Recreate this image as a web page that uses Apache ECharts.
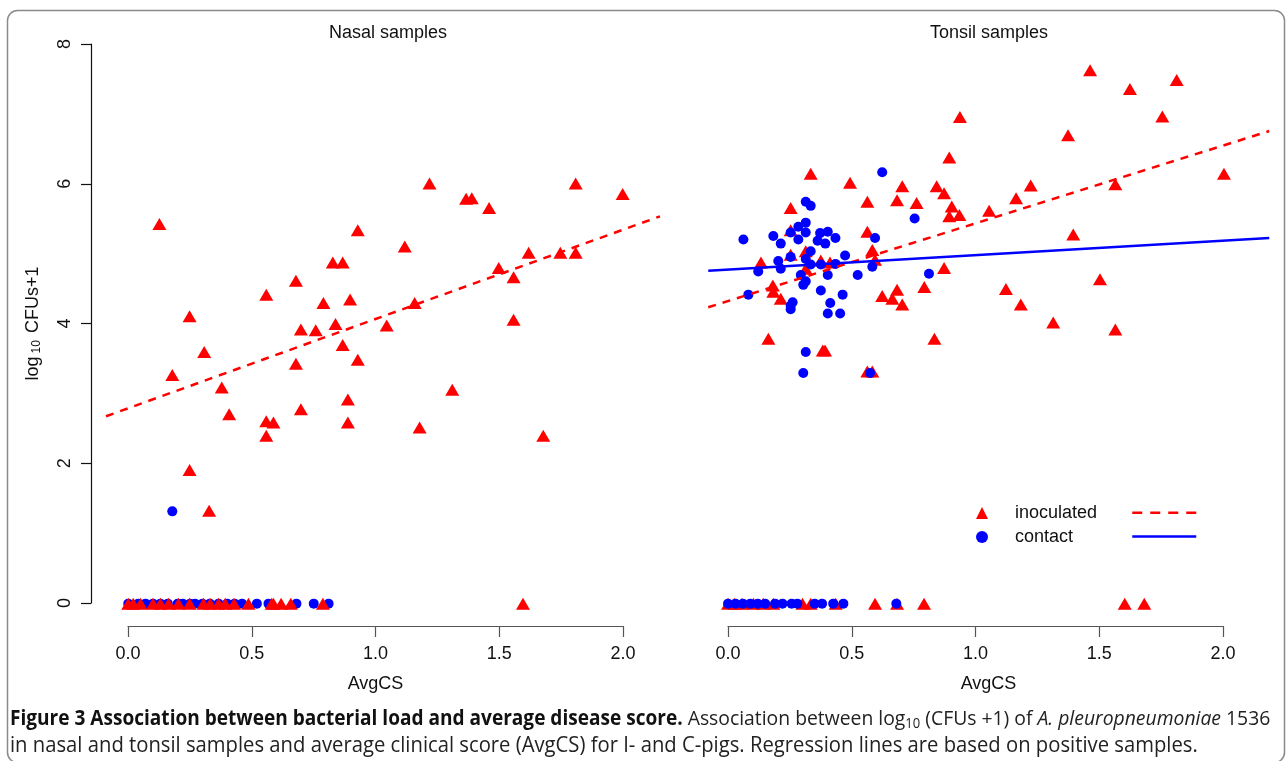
<!DOCTYPE html>
<html>
<head>
<meta charset="utf-8">
<script src="https://cdn.jsdelivr.net/npm/echarts@6/dist/echarts.min.js"></script>
<style>
  html, body { margin: 0; padding: 0; background: #fff; }
  #chart { width: 1288px; height: 761px; }
</style>
</head>
<body>
<div id="chart"></div>
<script>
// nasal samples, inoculated pigs (triangles)
var nasalInocX = [0.126, 0.928, 0.827, 0.867, 0.678, 0.558, 0.789, 0.897, 0.248, 0.698, 0.758, 0.838, 1.045, 0.867, 0.928,
  0.307, 0.678, 0.178, 0.378, 0.888, 0.698, 0.408, 0.558, 0.587, 0.888, 0.558, 1.218, 1.366, 1.389, 1.459, 1.809, 1.999,
  1.118, 1.158, 1.498, 1.619, 1.747, 1.809, 1.558, 1.558, 1.310, 1.178, 1.678, 0.248, 0.327,
  0.0, 0.02, 0.05, 0.10, 0.13, 0.163, 0.203, 0.248, 0.304, 0.331, 0.365, 0.392, 0.428, 0.486, 0.58, 0.587, 0.618, 0.657, 0.787, 1.596];
var nasalInocY = [5.43, 5.34, 4.88, 4.88, 4.62, 4.42, 4.30, 4.35, 4.11, 3.92, 3.91, 4.00, 3.98, 3.70, 3.49,
  3.60, 3.43, 3.27, 3.09, 2.92, 2.78, 2.71, 2.61, 2.59, 2.59, 2.40, 6.01, 5.79, 5.80, 5.66, 6.01, 5.86,
  5.11, 4.30, 4.80, 5.02, 5.02, 5.02, 4.67, 4.06, 3.06, 2.52, 2.40, 1.91, 1.33,
  0, 0, 0, 0, 0, 0, 0, 0, 0, 0, 0, 0, 0, 0, 0, 0, 0, 0, 0, 0];
// nasal samples, contact pigs (circles)
var nasalContX = [0.178, 0.0, 0.04, 0.07, 0.10, 0.13, 0.16, 0.20, 0.22, 0.25, 0.27, 0.30, 0.33, 0.365, 0.40, 0.43, 0.46, 0.52, 0.567, 0.68, 0.75, 0.81];
var nasalContY = [1.32, 0, 0, 0, 0, 0, 0, 0, 0, 0, 0, 0, 0, 0, 0, 0, 0, 0, 0, 0, 0, 0];

// tonsil samples, inoculated pigs
var tonsilInocX = [1.463, 1.813, 1.624, 1.755, 0.937, 1.374, 2.004, 1.223, 1.164, 1.055, 1.565, 1.395, 1.503, 1.123, 1.183, 1.314, 1.565,
  0.894, 0.334, 0.493, 0.704, 0.843, 0.873, 0.563, 0.683, 0.762, 0.253, 0.904, 0.894, 0.935, 0.253, 0.563, 0.583, 0.594,
  0.133, 0.253, 0.314, 0.314, 0.375, 0.412, 0.873, 0.181, 0.183, 0.213, 0.793, 0.683, 0.623, 0.664, 0.704, 0.163, 0.834,
  0.383, 0.392, 0.563, 0.583,
  0.0, 0.027, 0.056, 0.103, 0.142, 0.183, 0.301, 0.334, 0.435, 0.594, 0.683, 0.792, 1.603, 1.682];
var tonsilInocY = [7.63, 7.49, 7.36, 6.97, 6.96, 6.70, 6.15, 5.98, 5.80, 5.62, 6.00, 5.28, 4.64, 4.50, 4.28, 4.02, 3.92,
  6.38, 6.15, 6.02, 5.97, 5.97, 5.87, 5.75, 5.77, 5.73, 5.66, 5.68, 5.54, 5.56, 5.34, 5.32, 5.06, 4.92,
  4.88, 4.99, 5.04, 4.79, 4.91, 4.88, 4.80, 4.55, 4.46, 4.36, 4.53, 4.49, 4.40, 4.36, 4.28, 3.79, 3.79,
  3.62, 3.62, 3.32, 3.32,
  0, 0, 0, 0, 0, 0, 0, 0, 0, 0, 0, 0, 0, 0];
// tonsil samples, contact pigs
var tonsilContX = [0.623, 0.314, 0.334, 0.754, 0.314, 0.284, 0.062, 0.183, 0.253, 0.314, 0.372, 0.403, 0.213, 0.284, 0.362, 0.393,
  0.434, 0.594, 0.334, 0.473, 0.253, 0.203, 0.314, 0.334, 0.375, 0.434, 0.583, 0.213, 0.122, 0.812, 0.294, 0.403, 0.524,
  0.314, 0.304, 0.082, 0.375, 0.463, 0.261, 0.253, 0.253, 0.413, 0.403, 0.453, 0.314, 0.304, 0.574,
  0.0, 0.03, 0.06, 0.09, 0.12, 0.15, 0.19, 0.22, 0.257, 0.28, 0.35, 0.38, 0.425, 0.466, 0.68];
var tonsilContY = [6.17, 5.75, 5.69, 5.51, 5.45, 5.39, 5.21, 5.26, 5.31, 5.31, 5.30, 5.32, 5.15, 5.21, 5.19, 5.15,
  5.23, 5.23, 5.04, 4.98, 4.96, 4.90, 4.93, 4.85, 4.85, 4.86, 4.82, 4.79, 4.75, 4.72, 4.70, 4.70, 4.70,
  4.61, 4.56, 4.42, 4.48, 4.42, 4.31, 4.26, 4.21, 4.30, 4.15, 4.15, 3.60, 3.30, 3.30,
  0, 0, 0, 0, 0, 0, 0, 0, 0, 0, 0, 0, 0, 0, 0];

// regression lines (positive samples only), end points
var nasalInocFitX = [-0.09, 2.15];
var nasalInocFitY = [2.68, 5.54];
var tonsilInocFitX = [-0.08, 2.187];
var tonsilInocFitY = [4.24, 6.76];
var tonsilContFitX = [-0.08, 2.187];
var tonsilContFitY = [4.76, 5.23];

var xTicks = [0, 0.5, 1, 1.5, 2];
var yTicks = [0, 2, 4, 6, 8];

function pairs(xs, ys) {
  return xs.map(function (x, i) { return [x, ys[i]]; });
}

var FONT = '"Liberation Sans", Arial, sans-serif';
var CAP = '"Open Sans", sans-serif';
var RED = '#ff0000';
var BLUE = '#0000ff';
var FS = 18;

var chart = echarts.init(document.getElementById('chart'));

var hiddenY = { min: -0.32, max: 8.32, show: false };

var axisStyle = function (grid) {
  return {
    type: 'value', gridIndex: grid, min: xTicks[0], max: xTicks[xTicks.length - 1], interval: 0.5,
    axisLine: { lineStyle: { color: '#555', width: 1.2 } },
    axisTick: { length: 11, lineStyle: { color: '#555', width: 1.2 } },
    axisLabel: { fontSize: FS, color: '#111', fontFamily: FONT, margin: 19, formatter: function (v) { return v.toFixed(1); } },
    splitLine: { show: false }
  };
};

var leftXAxis = axisStyle(2);
leftXAxis.name = 'AvgCS';
leftXAxis.nameLocation = 'middle';
leftXAxis.nameGap = 49;
leftXAxis.nameTextStyle = { fontSize: FS, color: '#111', fontFamily: FONT };

var option = {
  animation: false,
  backgroundColor: '#fff',
  title: [
    { text: 'Nasal samples', left: 388, top: 24, textAlign: 'center', padding: 0,
      textStyle: { fontSize: FS, fontWeight: 'normal', color: '#111', fontFamily: FONT } },
    { text: 'Tonsil samples', left: 989, top: 24, textAlign: 'center', padding: 0,
      textStyle: { fontSize: FS, fontWeight: 'normal', color: '#111', fontFamily: FONT } }
  ],
  grid: [
    { left: 106, top: 22, width: 554, height: 604 },
    { left: 708, top: 22, width: 561, height: 604 },
    { left: 128, top: 22, width: 495, height: 604 },
    { left: 728, top: 22, width: 495, height: 604 },
    { left: 91, top: 44, width: 10, height: 559 }
  ],
  xAxis: [
    { type: 'value', gridIndex: 0, min: -0.09, max: 2.15, show: false },
    { type: 'value', gridIndex: 1, min: -0.081, max: 2.186,
      axisLine: { show: false }, axisTick: { show: false }, axisLabel: { show: false }, splitLine: { show: false },
      name: 'AvgCS', nameLocation: 'middle', nameGap: 49,
      nameTextStyle: { fontSize: FS, color: '#111', fontFamily: FONT } },
    leftXAxis,
    axisStyle(3),
    { type: 'value', gridIndex: 4, show: false }
  ],
  yAxis: [
    Object.assign({ type: 'value', gridIndex: 0 }, hiddenY),
    Object.assign({ type: 'value', gridIndex: 1 }, hiddenY),
    { type: 'value', gridIndex: 2, show: false },
    { type: 'value', gridIndex: 3, show: false },
    {
      type: 'value', gridIndex: 4, min: yTicks[0], max: yTicks[yTicks.length - 1], interval: 2,
      axisLine: { show: true, lineStyle: { color: '#111', width: 1.2 } },
      axisTick: { show: true, length: 10, lineStyle: { color: '#111', width: 1.2 } },
      axisLabel: { rotate: 90, fontSize: FS, color: '#111', fontFamily: FONT, margin: 17 },
      splitLine: { show: false },
      name: '{a|log}{b|10}{a| CFUs+1}',
      nameLocation: 'middle', nameRotate: 90, nameGap: 48,
      nameTextStyle: {
        fontFamily: FONT, color: '#111',
        rich: {
          a: { fontSize: FS, fontFamily: FONT, color: '#111', lineHeight: 20 },
          b: { fontSize: 12, fontFamily: FONT, color: '#111', verticalAlign: 'bottom', padding: [0, 2, 0, 3], lineHeight: 20 }
        }
      }
    }
  ],
  legend: [
    {
      left: 976, top: 504, orient: 'vertical', itemWidth: 12, itemHeight: 12, itemGap: 6, padding: 0,
      data: ['inoculated', 'contact'],
      selectedMode: false,
      textStyle: { fontSize: FS, color: '#111', fontFamily: FONT, padding: [0, 0, 0, 22], lineHeight: 14 }
    },
    {
      left: 1131, top: 508, orient: 'vertical', itemWidth: 64, itemHeight: 12, itemGap: 14, padding: 0,
      data: [
        { name: 'inoculated fit', lineStyle: { type: [10, 8], width: 2.5 } },
        { name: 'contact fit', lineStyle: { width: 2.5 } }
      ],
      selectedMode: false,
      itemStyle: { opacity: 0 },
      formatter: function () { return ''; },
      textStyle: { fontSize: FS, fontFamily: FONT, padding: [0, 0, 0, 22], lineHeight: 14 }
    }
  ],
  series: [
    { name: 'contact', type: 'scatter', xAxisIndex: 0, yAxisIndex: 0, symbol: 'circle', symbolSize: 10,
      itemStyle: { color: BLUE, opacity: 1 }, data: pairs(nasalContX, nasalContY) },
    { name: 'inoculated', type: 'scatter', xAxisIndex: 0, yAxisIndex: 0, symbol: 'triangle', symbolSize: [14, 12],
      itemStyle: { color: RED, opacity: 1 }, data: pairs(nasalInocX, nasalInocY) },
    { name: 'inoculated', type: 'scatter', xAxisIndex: 1, yAxisIndex: 1, symbol: 'triangle', symbolSize: [14, 12],
      itemStyle: { color: RED, opacity: 1 }, data: pairs(tonsilInocX, tonsilInocY) },
    { name: 'contact', type: 'scatter', xAxisIndex: 1, yAxisIndex: 1, symbol: 'circle', symbolSize: 10,
      itemStyle: { color: BLUE, opacity: 1 }, data: pairs(tonsilContX, tonsilContY) },
    { name: 'inoculated fit', type: 'line', xAxisIndex: 0, yAxisIndex: 0, symbol: 'none', silent: true,
      itemStyle: { color: RED }, lineStyle: { color: RED, width: 2.5, type: [8, 7] },
      data: pairs(nasalInocFitX, nasalInocFitY) },
    { name: 'inoculated fit', type: 'line', xAxisIndex: 1, yAxisIndex: 1, symbol: 'none', silent: true,
      itemStyle: { color: RED }, lineStyle: { color: RED, width: 2.5, type: [8, 7] },
      data: pairs(tonsilInocFitX, tonsilInocFitY) },
    { name: 'contact fit', type: 'line', xAxisIndex: 1, yAxisIndex: 1, symbol: 'none', silent: true,
      itemStyle: { color: BLUE }, lineStyle: { color: BLUE, width: 2.5 },
      data: pairs(tonsilContFitX, tonsilContFitY) }
  ],
  graphic: [
    { type: 'rect', left: 5, top: 8, silent: true,
      shape: { width: 1277, height: 752, r: 10 },
      style: { fill: 'none', stroke: '#8a8a8a', lineWidth: 1.5 } },
    { type: 'text', left: 10, top: 709, scaleX: 0.93, silent: true,
      style: {
        text: '{b|Figure 3 Association between bacterial load and average disease score.}{n| Association between log}{s|10}{n| (CFUs +1) of }{i|A. pleuropneumoniae}{n| 1536}',
        rich: {
          b: { fontSize: 20.5, fontWeight: 'bold', fontFamily: CAP, fill: '#111', lineHeight: 24 },
          n: { fontSize: 20.8, fontFamily: CAP, fill: '#222', lineHeight: 24 },
          i: { fontSize: 20.8, fontStyle: 'italic', fontFamily: CAP, fill: '#222', lineHeight: 24 },
          s: { fontSize: 14, fontFamily: CAP, fill: '#222', verticalAlign: 'bottom', lineHeight: 24 }
        }
      } },
    { type: 'text', left: 10, top: 736, scaleX: 0.964, silent: true,
      style: {
        text: 'in nasal and tonsil samples and average clinical score (AvgCS) for I- and C-pigs. Regression lines are based on positive samples.',
        font: '21px "Open Sans", sans-serif', fill: '#222'
      } }
  ]
};

chart.setOption(option);
</script>
</body>
</html>
